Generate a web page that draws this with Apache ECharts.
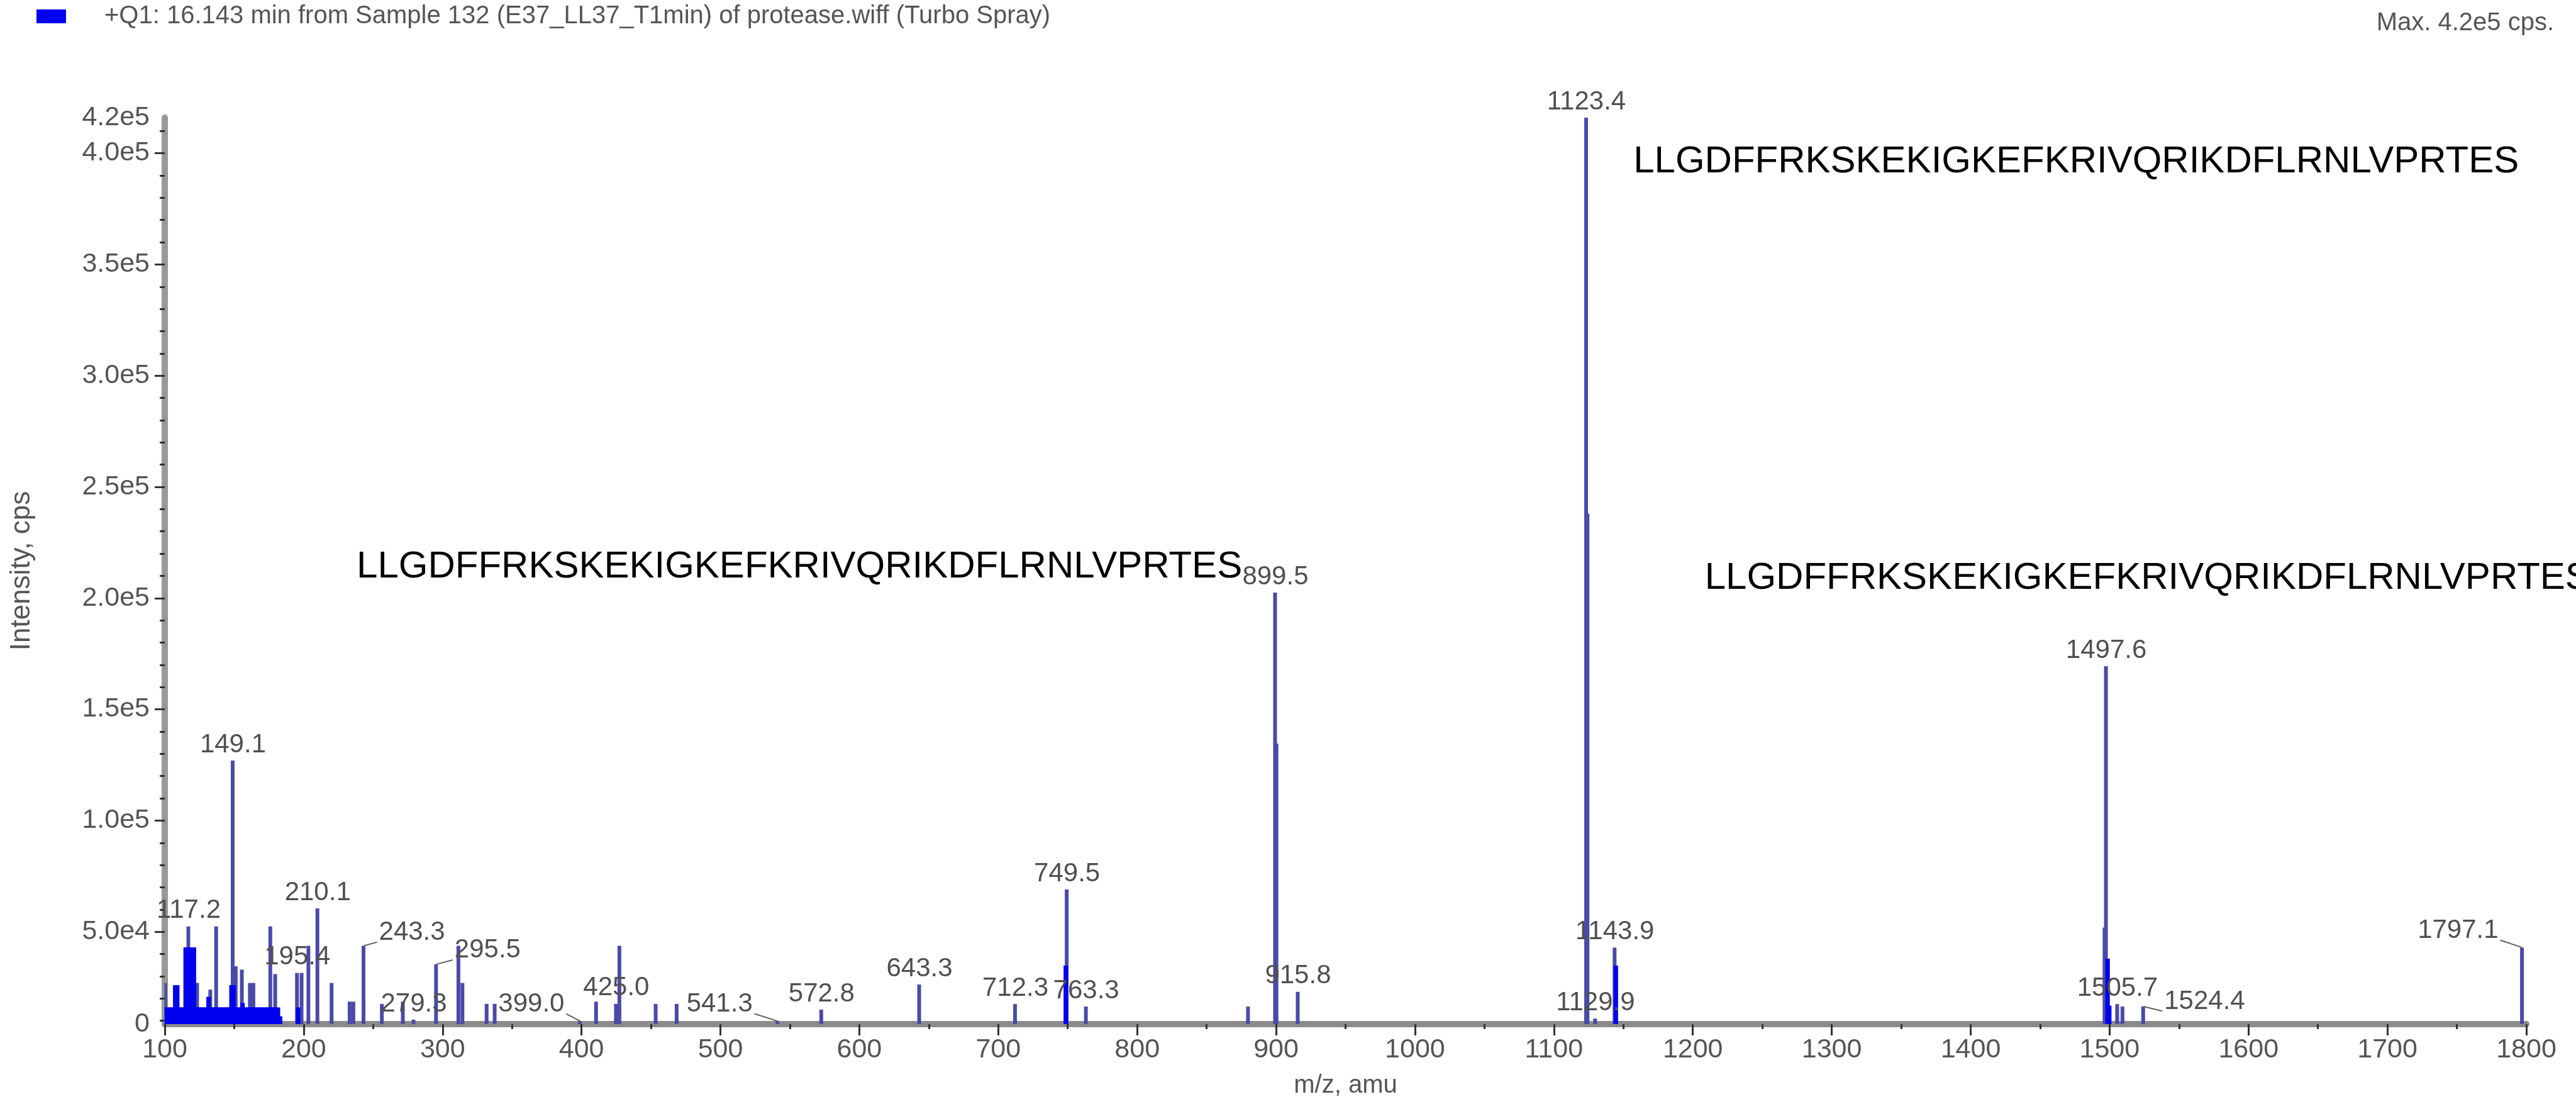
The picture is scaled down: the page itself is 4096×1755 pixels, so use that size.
<!DOCTYPE html>
<html>
<head>
<meta charset="utf-8">
<script src="https://cdn.jsdelivr.net/npm/echarts@6/dist/echarts.min.js"></script>
<style>
  html, body { margin: 0; padding: 0; background: #ffffff; }
  #chart { width: 4096px; height: 1755px; }
</style>
</head>
<body>
<div id="chart"></div>
<script>
// ---- Q1 scan, 16.143 min ----
const scanTitle = '+Q1: 16.143 min from Sample 132 (E37_LL37_T1min) of protease.wiff (Turbo Spray)';
const maxNote = 'Max. 4.2e5 cps.';
const peptide = 'LLGDFFRKSKEKIGKEFKRIVQRIKDFLRNLVPRTES';

// centroided peaks: m/z and intensity (cps)
const peakMz = [
  100.5, 117.2, 123.5, 133.0, 137.2, 145.5, 149.1, 151.3, 155.7, 161.5,
  164.0, 176.2, 179.7, 195.4, 198.7, 203.6, 210.1, 220.3, 233.3, 236.0,
  243.3, 256.5, 271.6, 279.3, 295.5, 311.6, 314.5, 331.9, 337.7, 399.0,
  410.7, 425.0, 427.5, 453.6, 468.7, 541.3, 572.8, 643.3, 712.3, 749.5,
  763.3, 880.0, 899.5, 900.5, 915.8, 1123.4, 1124.4, 1129.9, 1143.9, 1496.6,
  1497.6, 1505.7, 1509.5, 1524.4, 1797.1
];
const peakIntensity = [
  27000, 52400, 27000, 24000, 52400, 16000, 127000, 34500, 33000, 27000,
  27000, 52400, 31000, 31500, 31500, 43700, 60500, 27000, 18600, 18600,
  43700, 17600, 18600, 10500, 35400, 43700, 27000, 17600, 17600, 9800,
  18600, 17600, 43700, 17600, 17600, 9800, 15000, 26300, 17500, 69000,
  16400, 16400, 202500, 134600, 23000, 416000, 238000, 11000, 42900, 51900,
  169400, 17500, 16400, 16400, 42900
];

// unresolved low-level signal (dense low-mass region and isotope shoulders)
const clusterMz = [
  101.5, 103.0, 104.5, 106.0, 107.5, 109.0, 110.5, 112.0, 113.5, 115.0,
  116.5, 118.0, 119.5, 121.0, 122.5, 124.0, 125.5, 127.0, 128.5, 130.0,
  131.5, 133.0, 134.5, 136.0, 137.5, 139.0, 140.5, 142.0, 143.5, 145.0,
  146.5, 148.0, 149.5, 151.0, 152.5, 154.0, 156.0, 157.5, 159.0, 160.5,
  162.0, 163.5, 165.0, 166.5, 168.0, 169.5, 171.0, 172.5, 174.0, 175.5,
  177.0, 178.5, 180.0, 181.5, 183.0, 196.0, 748.6, 1144.6, 1498.6, 1499.8
];
const clusterIntensity = [
  16000, 16000, 16000, 16000, 26000, 26000, 16000, 16000, 16000, 43000,
  43000, 43000, 43000, 43000, 16000, 16000, 16000, 16000, 16000, 16000,
  20800, 16000, 16000, 16000, 16000, 16000, 16000, 16000, 16000, 16000,
  16000, 26000, 26000, 16000, 16000, 16000, 18000, 16000, 16000, 16000,
  16000, 16000, 16000, 16000, 16000, 16000, 16000, 16000, 16000, 16000,
  16000, 16000, 16000, 16000, 12000, 16000, 34800, 34800, 37900, 16800
];

// peaks carrying an m/z label
const labelMz = [
  117.2, 149.1, 195.4, 210.1, 243.3, 279.3, 295.5, 399.0, 425.0, 541.3,
  572.8, 643.3, 712.3, 749.5, 763.3, 899.5, 915.8, 1123.4, 1129.9, 1143.9,
  1497.6, 1505.7, 1524.4, 1797.1
];

// sequence annotations: anchor (left edge, middle) in m/z / intensity
const peptideAnchorMz = [238.1, 1157.2, 1208.6];
const peptideAnchorIntensity = [214100, 396200, 209000];

// axis ticks
const yMin = 8500;
const yMax = 416000;
const yMajorTicks = [50000, 100000, 150000, 200000, 250000, 300000, 350000, 400000];
const yMinorTicks = [
  10000, 20000, 30000, 40000, 60000, 70000, 80000, 90000, 110000, 120000,
  130000, 140000, 160000, 170000, 180000, 190000, 210000, 220000, 230000, 240000,
  260000, 270000, 280000, 290000, 310000, 320000, 330000, 340000, 360000, 370000,
  380000, 390000, 410000
];

// ---- presentation ----
const FONT = '"Liberation Sans", Arial, sans-serif';
const TICK_FONT = 43;
const PEAK_FONT = 42;
const LABEL_GRAY = '#505050';

// labels pushed aside with a leader line: [horizontal gap to label edge, rise of label centre]
const leaderLabels = {
  '243.3': [24, 21],
  '295.5': [29, 22],
  '399.0': [-25, 27],
  '541.3': [-40, 27],
  '1524.4': [33, 8],
  '1797.1': [-38, 27]
};

const labelData = labelMz.map(function (mz) {
  return [mz, peakIntensity[peakMz.indexOf(mz)]];
});
const peptideData = peptideAnchorMz.map(function (mz, i) {
  return [mz, peptideAnchorIntensity[i]];
});

function fmtIntensity(v) {
  if (v === yMin) return '0';
  return v.toExponential(1).replace('e+', 'e');
}

function renderPeakLabel(params, api) {
  const mz = api.value(0);
  const p = api.coord([mz, api.value(1)]);
  const text = mz.toFixed(1);
  const font = PEAK_FONT + 'px ' + FONT;
  const lead = leaderLabels[text];
  if (!lead) {
    return {
      type: 'text',
      x: p[0], y: p[1] - 4,
      style: { text: text, font: font, fill: LABEL_GRAY, align: 'center', verticalAlign: 'bottom' }
    };
  }
  const gap = lead[0], rise = lead[1];
  const cy = p[1] - rise;
  const half = PEAK_FONT * 0.36;
  const edge = p[0] + gap;
  const lineEnd = gap > 0 ? [edge - 3, cy + half] : [edge + 3, cy + half];
  return {
    type: 'group',
    children: [
      {
        type: 'polyline',
        shape: { points: [[p[0], p[1]], lineEnd] },
        style: { stroke: '#606060', lineWidth: 2, fill: null }
      },
      {
        type: 'text',
        x: edge, y: cy,
        style: { text: text, font: font, fill: LABEL_GRAY, align: gap > 0 ? 'left' : 'right', verticalAlign: 'middle' }
      }
    ]
  };
}

function renderPeptide(params, api) {
  const p = api.coord([api.value(0), api.value(1)]);
  return {
    type: 'text',
    x: p[0], y: p[1],
    style: { text: peptide, font: '60px ' + FONT, fill: '#000000', align: 'left', verticalAlign: 'middle' }
  };
}

const chart = echarts.init(document.getElementById('chart'), null, { renderer: 'canvas' });

chart.setOption({
  animation: false,
  backgroundColor: '#ffffff',
  textStyle: { fontFamily: FONT },
  title: {
    text: maxNote,
    right: 30,
    top: 12,
    textStyle: { fontSize: 40, fontWeight: 'normal', color: '#555555', fontFamily: FONT }
  },
  legend: {
    left: 58,
    top: 6,
    padding: 0,
    itemWidth: 47,
    itemHeight: 22,
    icon: 'rect',
    data: [scanTitle],
    itemStyle: { color: '#0000ee' },
    textStyle: { fontSize: 40, color: '#555555', fontFamily: FONT, padding: [0, 0, 0, 56] },
    selectedMode: false
  },
  grid: { left: 262, right: 79, top: 187, bottom: 127 },
  xAxis: {
    type: 'value',
    min: 100,
    max: 1800,
    interval: 100,
    name: 'm/z, amu',
    nameLocation: 'middle',
    nameGap: 78,
    nameTextStyle: { fontSize: 40, color: '#555555', fontFamily: FONT },
    axisLine: { show: true, onZero: false, lineStyle: { color: '#8c8c8c', width: 10 } },
    axisTick: { show: true, length: 18, lineStyle: { color: '#333333', width: 3 } },
    minorTick: { show: true, splitNumber: 2, length: 8, lineStyle: { color: '#333333', width: 3 } },
    splitLine: { show: false },
    axisLabel: {
      fontSize: TICK_FONT, color: '#555555', margin: 20, fontFamily: FONT,
      formatter: function (v) { return String(v); }
    }
  },
  yAxis: [
    {
      type: 'value',
      min: yMin,
      max: yMax,
      position: 'left',
      name: 'Intensity, cps',
      nameLocation: 'middle',
      nameRotate: 90,
      nameGap: 205,
      nameTextStyle: { fontSize: 44, color: '#555555', fontFamily: FONT },
      axisLine: { show: true, onZero: false, lineStyle: { color: '#999999', width: 10 } },
      axisTick: { show: true, length: 16, customValues: yMajorTicks, lineStyle: { color: '#333333', width: 3 } },
      splitLine: { show: false },
      axisLabel: {
        fontSize: TICK_FONT,
        color: '#555555',
        margin: 24,
        fontFamily: FONT,
        customValues: [yMin].concat(yMajorTicks, [yMax]),
        formatter: fmtIntensity
      }
    },
    {
      type: 'value',
      min: yMin,
      max: yMax,
      position: 'left',
      offset: 0,
      axisLine: { show: false },
      axisLabel: { show: false },
      splitLine: { show: false },
      axisTick: { show: true, length: 8, customValues: yMinorTicks, lineStyle: { color: '#333333', width: 3 } }
    }
  ],
  series: [
    {
      name: scanTitle,
      type: 'bar',
      barWidth: 6,
      barGap: '-100%',
      itemStyle: { color: '#4a4aaa' },
      data: peakMz.map(function (mz, i) { return [mz, peakIntensity[i]]; }),
      z: 2
    },
    {
      name: scanTitle,
      type: 'bar',
      barWidth: 7,
      barGap: '-100%',
      itemStyle: { color: '#0000ee' },
      data: clusterMz.map(function (mz, i) { return [mz, clusterIntensity[i]]; }),
      z: 3
    },
    {
      name: 'm/z labels',
      type: 'custom',
      renderItem: renderPeakLabel,
      data: labelData,
      encode: { x: 0, y: 1 },
      clip: false,
      z: 5
    },
    {
      name: 'sequence',
      type: 'custom',
      renderItem: renderPeptide,
      data: peptideData,
      encode: { x: 0, y: 1 },
      clip: false,
      z: 6
    }
  ]
});
</script>
</body>
</html>
